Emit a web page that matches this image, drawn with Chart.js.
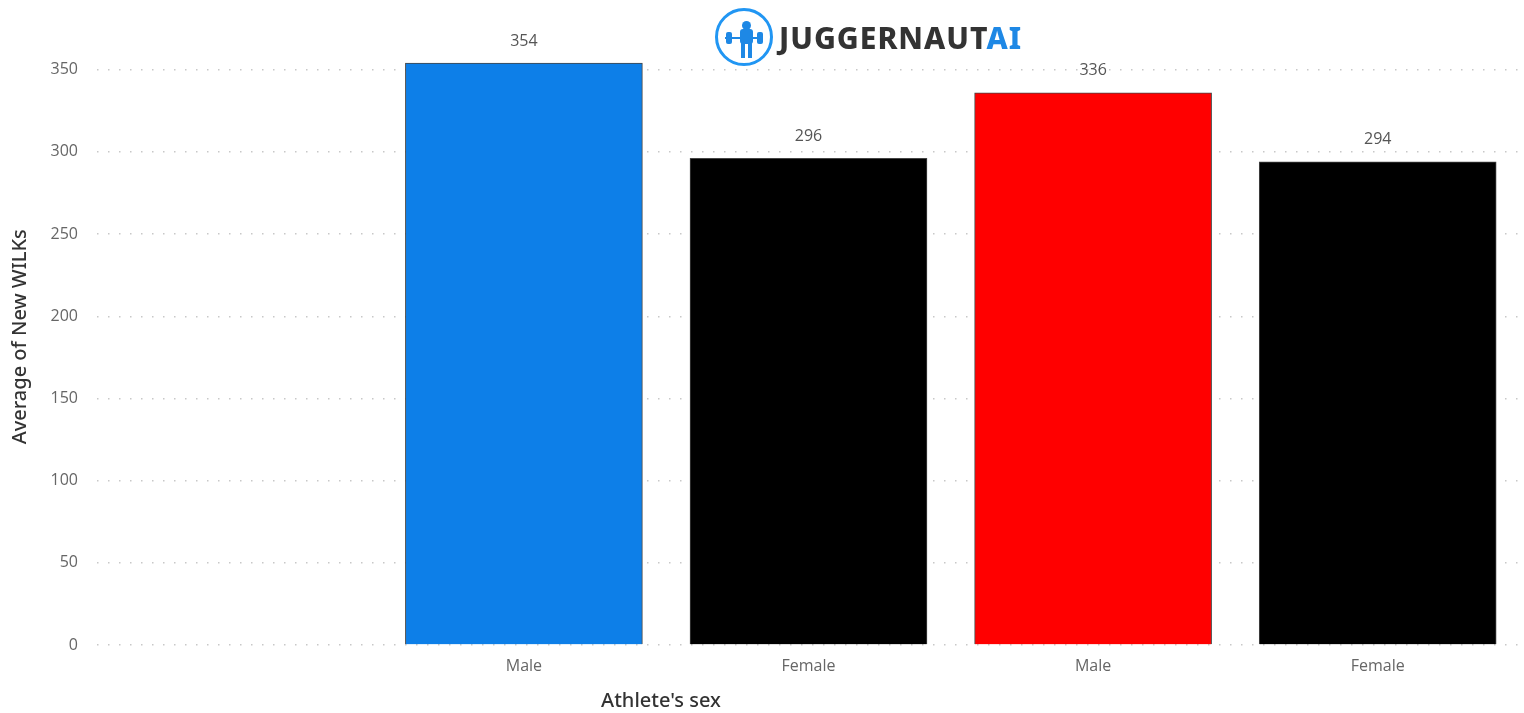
<!DOCTYPE html>
<html>
<head>
<meta charset="utf-8">
<script src="https://cdn.jsdelivr.net/npm/chart.js@4"></script>
<style>
  html, body { margin: 0; padding: 0; background: #fff; }
  #wrap { position: relative; width: 1524px; height: 713px; }
  #logo {
    position: absolute; left: 715px; top: 8px; height: 58px;
    display: flex; align-items: center; font-family: "Noto Sans", sans-serif;
  }
  #logo .ring {
    width: 58px; height: 58px; border: 3px solid #2196f3; border-radius: 50%;
    box-sizing: border-box; position: relative; margin-right: 6px;
  }
  #logo .ring span { position: absolute; background: #1e88e5; }
  #logo .brand { font-size: 30px; font-weight: 800; color: #333; letter-spacing: 1px; }
  #logo .brand b { color: #1e88e5; font-weight: 800; }
  #xtitle {
    position: absolute; left: 661px; top: 686px; transform: translateX(-50%);
    font-family: "Noto Sans", sans-serif; font-size: 20px; color: #333; font-weight: 500;
  }
</style>
</head>
<body>
<div id="wrap">
  <canvas id="chart" width="1524" height="713"></canvas>
  <div id="logo">
    <div class="ring">
      <span style="left:24px;top:10px;width:9px;height:9px;border-radius:50%"></span>
      <span style="left:22px;top:18px;width:13px;height:15px;border-radius:3px"></span>
      <span style="left:23px;top:32px;width:4px;height:15px"></span>
      <span style="left:30px;top:32px;width:4px;height:15px"></span>
      <span style="left:7px;top:26px;width:38px;height:2px"></span>
      <span style="left:8px;top:21px;width:6px;height:12px;border-radius:2px"></span>
      <span style="left:39px;top:21px;width:6px;height:12px;border-radius:2px"></span>
    </div>
    <div class="brand">JUGGERNAUT<b>AI</b></div>
  </div>
  <div id="xtitle">Athlete's sex</div>
</div>
<script>
const CATEGORIES = ["", "Male", "Female", "Male", "Female"];
const WILKS = [null, 354, 296, 336, 294];
const BAR_COLORS = ["#ffffff", "#0d7fe8", "#000000", "#ff0000", "#000000"];
const Y_TICKS = [0, 50, 100, 150, 200, 250, 300, 350];

const valueLabels = {
  id: "valueLabels",
  afterDatasetsDraw(chart) {
    const ctx = chart.ctx;
    const meta = chart.getDatasetMeta(0);
    ctx.save();
    ctx.font = "16px 'Open Sans', sans-serif";
    ctx.fillStyle = "#555";
    ctx.textAlign = "center";
    ctx.textBaseline = "middle";
    meta.data.forEach((bar, i) => {
      if (WILKS[i] == null) return;
      ctx.fillText(String(WILKS[i]), bar.x, bar.y - 22);
    });
    ctx.restore();
  },
};

new Chart(document.getElementById("chart"), {
  type: "bar",
  data: {
    labels: CATEGORIES,
    datasets: [{
      data: WILKS,
      backgroundColor: BAR_COLORS,
      borderColor: "#444",
      borderWidth: 1,
      barThickness: 237,
    }],
  },
  options: {
    responsive: false,
    animation: false,
    layout: { padding: { left: 0, right: 4, top: 0, bottom: 0 } },
    plugins: {
      legend: { display: false },
      tooltip: { enabled: false },
    },
    scales: {
      x: {
        grid: { display: false, drawTicks: false },
        border: { display: false },
        ticks: {
          color: "#666",
          padding: 12,
          font: { family: "'Open Sans', sans-serif", size: 16 },
        },
        afterFit(scale) { scale.height = 68; },
      },
      y: {
        min: 0,
        max: 375,
        afterBuildTicks(scale) { scale.ticks = Y_TICKS.map((v) => ({ value: v })); },
        grid: {
          color: "#c8c8c8",
          lineWidth: 1.5,
          drawTicks: false,
        },
        border: { display: false, dash: [1.5, 9.5] },
        ticks: {
          color: "#666",
          padding: 19,
          font: { family: "'Open Sans', sans-serif", size: 16 },
        },
        title: {
          display: true,
          text: "Average of New WILKs",
          color: "#333",
          padding: { top: 8, bottom: 0 },
          font: { family: "'Noto Sans', sans-serif", size: 20, weight: 500 },
        },
        afterFit(scale) { scale.width = 97; },
      },
    },
  },
  plugins: [valueLabels],
});
</script>
</body>
</html>
